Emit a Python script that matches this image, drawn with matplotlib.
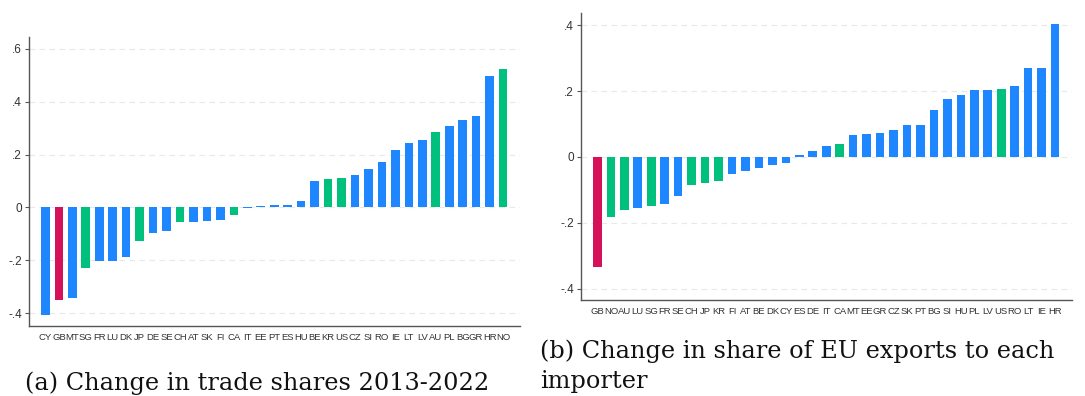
"""
Two panels of sorted bar charts: change in trade shares by country.
"""
import matplotlib
matplotlib.use('Agg')
import matplotlib.pyplot as plt
from matplotlib.ticker import FuncFormatter

# Panel (a): change in trade shares 2013-2022
countries_a = ['CY', 'GB', 'MT', 'SG', 'FR', 'LU', 'DK', 'JP', 'DE', 'SE', 'CH', 'AT',
               'SK', 'FI', 'CA', 'IT', 'EE', 'PT', 'ES', 'HU', 'BE', 'KR', 'US', 'CZ',
               'SI', 'RO', 'IE', 'LT', 'LV', 'AU', 'PL', 'BG', 'GR', 'HR', 'NO']
values_a = [-0.406, -0.352, -0.343, -0.231, -0.203, -0.203, -0.187, -0.128, -0.096,
            -0.091, -0.057, -0.055, -0.052, -0.049, -0.028, -0.003, 0.004, 0.008,
            0.009, 0.024, 0.099, 0.106, 0.112, 0.122, 0.146, 0.171, 0.216, 0.243,
            0.254, 0.287, 0.307, 0.332, 0.347, 0.499, 0.522]

# Panel (b): change in share of EU exports to each importer
countries_b = ['GB', 'NO', 'AU', 'LU', 'SG', 'FR', 'SE', 'CH', 'JP', 'KR', 'FI', 'AT',
               'BE', 'DK', 'CY', 'ES', 'DE', 'IT', 'CA', 'MT', 'EE', 'GR', 'CZ', 'SK',
               'PT', 'BG', 'SI', 'HU', 'PL', 'LV', 'US', 'RO', 'LT', 'IE', 'HR']
values_b = [-0.334, -0.182, -0.162, -0.156, -0.150, -0.143, -0.119, -0.086, -0.079,
            -0.073, -0.051, -0.043, -0.034, -0.023, -0.018, 0.006, 0.019, 0.033,
            0.039, 0.068, 0.071, 0.074, 0.082, 0.098, 0.098, 0.142, 0.175, 0.187,
            0.203, 0.203, 0.206, 0.216, 0.269, 0.271, 0.403]

# group membership (colour)
red_group = ['GB']
green_group = ['SG', 'JP', 'CH', 'CA', 'KR', 'US', 'AU', 'NO']

BLUE = '#1E87FF'
GREEN = '#00C07E'
RED = '#D5115A'


def bar_colors(codes):
    cols = []
    for c in codes:
        if c in red_group:
            cols.append(RED)
        elif c in green_group:
            cols.append(GREEN)
        else:
            cols.append(BLUE)
    return cols


def fmt_tick(v, pos):
    if abs(v) < 1e-9:
        return '0'
    s = f'{v:.1f}'
    return s.replace('0.', '.')


def draw_panel(ax, codes, vals, ylim, yticks):
    x = range(len(codes))
    ax.bar(x, vals, width=0.64, color=bar_colors(codes), linewidth=0, zorder=3)
    ax.set_xlim(-1.22, len(codes) + 0.26)
    ax.set_ylim(*ylim)
    ax.set_yticks(yticks)
    ax.yaxis.set_major_formatter(FuncFormatter(fmt_tick))
    ax.set_xticks(list(x))
    ax.set_xticklabels(codes, fontsize=6.8, color='#333333', family='Liberation Sans')
    ax.tick_params(axis='x', length=0, pad=5)
    ax.tick_params(axis='y', length=3, width=0.8, color='#555555', pad=2,
                   labelsize=8.5, labelcolor='#333333')
    for lbl in ax.get_yticklabels():
        lbl.set_family('Liberation Sans')
    ax.grid(True, axis='y', color='#e8e8e8', linestyle=(0, (5, 4)), linewidth=0.8, zorder=0)
    ax.spines['top'].set_visible(False)
    ax.spines['right'].set_visible(False)
    ax.spines['left'].set_color('#555555')
    ax.spines['bottom'].set_color('#555555')
    ax.spines['left'].set_linewidth(1.0)
    ax.spines['bottom'].set_linewidth(1.0)


fig = plt.figure(figsize=(10.85, 3.96), dpi=100)

ax1 = fig.add_axes([29 / 1085, 70 / 396, 491 / 1085, 289 / 396])
draw_panel(ax1, countries_a, values_a, (-0.449, 0.645), [-0.4, -0.2, 0, 0.2, 0.4, 0.6])

ax2 = fig.add_axes([581 / 1085, 96 / 396, 491 / 1085, 287 / 396])
draw_panel(ax2, countries_b, values_b, (-0.434, 0.437), [-0.4, -0.2, 0, 0.2, 0.4])

cap_font = dict(family='DejaVu Serif', fontsize=17.3, color='#111111')
fig.text(25 / 1085, 1 - 390 / 396, '(a) Change in trade shares 2013-2022',
         ha='left', va='baseline', **cap_font)
fig.text(540 / 1085, 1 - 358 / 396, '(b) Change in share of EU exports to each',
         ha='left', va='baseline', **cap_font)
fig.text(540 / 1085, 1 - 388 / 396, 'importer',
         ha='left', va='baseline', **cap_font)

plt.savefig('out.png', dpi=100)
